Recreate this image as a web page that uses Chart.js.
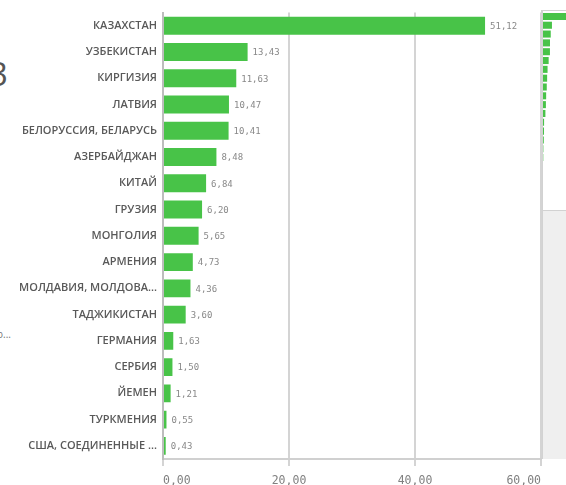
<!DOCTYPE html>
<html>
<head>
<meta charset="utf-8">
<script src="https://cdn.jsdelivr.net/npm/chart.js@4"></script>
<style>
  html, body { margin: 0; padding: 0; background: #fff; }
  body { width: 566px; height: 485px; overflow: hidden; position: relative; font-family: "Open Sans", sans-serif; }
  #mainChart { position: absolute; left: 0; top: 0; z-index: 3; }
  #miniFrame { position: absolute; left: 541px; top: 10px; width: 40px; height: 448px;
               border-left: 2px solid #d2d2d2; border-top: 1px solid #d2d2d2; z-index: 1; }
  #miniShade { position: absolute; left: 543px; top: 210px; width: 40px; height: 248px;
               background: #efefef; border-top: 1px solid #d2d2d2; z-index: 1; }
  #miniChart { position: absolute; left: 543px; top: 12px; z-index: 2; }
  .stray { position: absolute; color: #555; z-index: 0; white-space: nowrap; }
</style>
</head>
<body>
<div class="stray" style="left:-11px; top:51px; font-size:33px;">3</div>
<div class="stray" style="left:-3px; top:327px; font-size:10px; color:#777;">о...</div>
<div id="miniFrame"></div>
<div id="miniShade"></div>
<canvas id="miniChart" width="40" height="150"></canvas>
<canvas id="mainChart" width="566" height="485"></canvas>
<script>
// Data
const COUNTRIES = [
    'КАЗАХСТАН', 'УЗБЕКИСТАН', 'КИРГИЗИЯ', 'ЛАТВИЯ', 'БЕЛОРУССИЯ, БЕЛАРУСЬ',
    'АЗЕРБАЙДЖАН', 'КИТАЙ', 'ГРУЗИЯ', 'МОНГОЛИЯ', 'АРМЕНИЯ',
    'МОЛДАВИЯ, МОЛДОВА...', 'ТАДЖИКИСТАН', 'ГЕРМАНИЯ', 'СЕРБИЯ', 'ЙЕМЕН',
    'ТУРКМЕНИЯ', 'США, СОЕДИНЕННЫЕ ...'
];
const VALUES = [51.12, 13.43, 11.63, 10.47, 10.41, 8.48, 6.84, 6.20, 5.65, 4.73,
                4.36, 3.60, 1.63, 1.50, 1.21, 0.55, 0.43];
const X_TICKS = [0, 20, 40, 60];

const BAR_GREEN = '#48c348';
const fmt = v => v.toFixed(2).replace('.', ',');

// value labels next to each bar
const valueLabels = {
    id: 'valueLabels',
    afterDatasetsDraw(chart) {
        const ctx = chart.ctx;
        const meta = chart.getDatasetMeta(0);
        ctx.save();
        ctx.font = '9px "DejaVu Sans Mono", monospace';
        ctx.fillStyle = '#888';
        ctx.textAlign = 'left';
        ctx.textBaseline = 'middle';
        meta.data.forEach((bar, i) => {
            ctx.fillText(fmt(VALUES[i]), bar.x + 5, bar.y + 1);
        });
        ctx.restore();
    }
};

new Chart(document.getElementById('mainChart'), {
    type: 'bar',
    data: {
        labels: COUNTRIES,
        datasets: [{
            data: VALUES,
            backgroundColor: BAR_GREEN,
            borderWidth: 0,
            barPercentage: 0.68,
            categoryPercentage: 1
        }]
    },
    options: {
        indexAxis: 'y',
        responsive: false,
        animation: false,
        layout: { padding: { top: 11, right: 25, left: 0, bottom: 0 } },
        plugins: { legend: { display: false }, tooltip: { enabled: false } },
        scales: {
            x: {
                min: 0,
                max: 60,
                afterBuildTicks: scale => { scale.ticks = X_TICKS.map(v => ({ value: v })); },
                afterFit: scale => { scale.height = 26; },
                grid: { color: '#d4d4d4', lineWidth: 2, tickLength: 7 },
                border: { color: '#d0d0d0', width: 2 },
                ticks: {
                    align: 'inner',
                    padding: 8,
                    color: '#808080',
                    font: { family: '"DejaVu Sans Mono", monospace', size: 11.5 },
                    callback: v => fmt(v)
                }
            },
            y: {
                afterFit: scale => { scale.width = 163; },
                grid: { display: false, drawTicks: false },
                border: { color: '#bdbdbd', width: 2 },
                ticks: {
                    padding: 6,
                    color: '#595959',
                    font: { family: '"Open Sans", sans-serif', size: 11, weight: '600' }
                }
            }
        }
    },
    plugins: [valueLabels]
});

// small overview chart on the right
new Chart(document.getElementById('miniChart'), {
    type: 'bar',
    data: {
        labels: COUNTRIES,
        datasets: [{
            data: VALUES,
            backgroundColor: BAR_GREEN,
            borderWidth: 0,
            barPercentage: 0.8,
            categoryPercentage: 1
        }]
    },
    options: {
        indexAxis: 'y',
        responsive: false,
        animation: false,
        layout: { padding: 0 },
        plugins: { legend: { display: false }, tooltip: { enabled: false } },
        scales: {
            x: { display: false, min: 0, max: 60 },
            y: { display: false }
        }
    }
});
</script>
</body>
</html>
